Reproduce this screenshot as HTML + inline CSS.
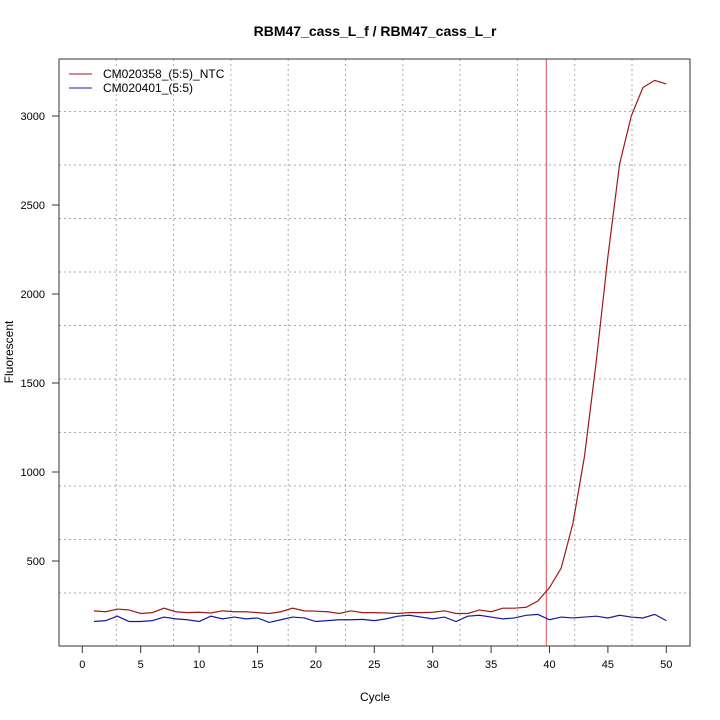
<!DOCTYPE html>
<html><head><style>body{margin:0;background:#fff}svg{display:block;font-family:"Liberation Sans",Arial,sans-serif}</style></head>
<body>
<svg width="720" height="720" viewBox="0 0 720 720">
<rect width="720" height="720" fill="#fff"/>
<text x="375" y="36" font-size="14" font-weight="bold" text-anchor="middle">RBM47_cass_L_f / RBM47_cass_L_r</text>
<g stroke="#aaa" stroke-dasharray="2,3" stroke-width="1">
<line x1="116.3" y1="59" x2="116.3" y2="646"/><line x1="173.6" y1="59" x2="173.6" y2="646"/><line x1="230.9" y1="59" x2="230.9" y2="646"/><line x1="288.2" y1="59" x2="288.2" y2="646"/><line x1="345.5" y1="59" x2="345.5" y2="646"/><line x1="402.8" y1="59" x2="402.8" y2="646"/><line x1="460.1" y1="59" x2="460.1" y2="646"/><line x1="517.4" y1="59" x2="517.4" y2="646"/><line x1="574.7" y1="59" x2="574.7" y2="646"/><line x1="632" y1="59" x2="632" y2="646"/>
<line x1="59" y1="593" x2="690" y2="593"/><line x1="59" y1="539.5" x2="690" y2="539.5"/><line x1="59" y1="486" x2="690" y2="486"/><line x1="59" y1="432.5" x2="690" y2="432.5"/><line x1="59" y1="379" x2="690" y2="379"/><line x1="59" y1="325.5" x2="690" y2="325.5"/><line x1="59" y1="272" x2="690" y2="272"/><line x1="59" y1="218.5" x2="690" y2="218.5"/><line x1="59" y1="165" x2="690" y2="165"/><line x1="59" y1="111.5" x2="690" y2="111.5"/>
</g>
<line x1="546.3" y1="59" x2="546.3" y2="646" stroke="#e05050" stroke-width="1"/>
<g transform="translate(82.3,650) scale(11.68,-0.178)" fill="none" stroke-width="1.2">
<polyline vector-effect="non-scaling-stroke" stroke="#a01818" points="1,220 2,215 3,230 4,225 5,205 6,210 7,235 8,215 9,210 10,212 11,208 12,220 13,215 14,215 15,210 16,205 17,215 18,235 19,220 20,218 21,215 22,205 23,220 24,210 25,210 26,208 27,205 28,210 29,210 30,212 31,220 32,205 33,205 34,225 35,215 36,235 37,235 38,240 39,275 40,350 41,460 42,710 43,1090 44,1620 45,2210 46,2730 47,3000 48,3160 49,3200 50,3180"/>
<polyline vector-effect="non-scaling-stroke" stroke="#1818a0" points="1,160 2,165 3,190 4,160 5,160 6,165 7,185 8,175 9,170 10,160 11,190 12,175 13,185 14,175 15,180 16,155 17,170 18,185 19,180 20,160 21,165 22,170 23,170 24,172 25,165 26,175 27,190 28,195 29,185 30,175 31,185 32,160 33,190 34,195 35,185 36,175 37,180 38,195 39,200 40,170 41,185 42,180 43,185 44,190 45,180 46,195 47,185 48,180 49,200 50,165"/>
</g>
<rect x="59" y="59" width="631" height="587" fill="none" stroke="#333" stroke-width="1"/>
<g stroke="#333">
<line x1="82.3" y1="646" x2="82.3" y2="653"/><line x1="140.7" y1="646" x2="140.7" y2="653"/><line x1="199.1" y1="646" x2="199.1" y2="653"/><line x1="257.5" y1="646" x2="257.5" y2="653"/><line x1="315.9" y1="646" x2="315.9" y2="653"/><line x1="374.3" y1="646" x2="374.3" y2="653"/><line x1="432.7" y1="646" x2="432.7" y2="653"/><line x1="491.1" y1="646" x2="491.1" y2="653"/><line x1="549.5" y1="646" x2="549.5" y2="653"/><line x1="607.9" y1="646" x2="607.9" y2="653"/><line x1="666.3" y1="646" x2="666.3" y2="653"/>
<line x1="52" y1="116" x2="59" y2="116"/><line x1="52" y1="205" x2="59" y2="205"/><line x1="52" y1="294" x2="59" y2="294"/><line x1="52" y1="383" x2="59" y2="383"/><line x1="52" y1="472" x2="59" y2="472"/><line x1="52" y1="561" x2="59" y2="561"/>
</g>
<g font-size="11" text-anchor="middle">
<text x="82.3" y="668">0</text><text x="140.7" y="668">5</text><text x="199.1" y="668">10</text><text x="257.5" y="668">15</text><text x="315.9" y="668">20</text><text x="374.3" y="668">25</text><text x="432.7" y="668">30</text><text x="491.1" y="668">35</text><text x="549.5" y="668">40</text><text x="607.9" y="668">45</text><text x="666.3" y="668">50</text>
</g>
<g font-size="11" text-anchor="end">
<text x="45" y="120">3000</text><text x="45" y="209">2500</text><text x="45" y="298">2000</text><text x="45" y="387">1500</text><text x="45" y="476">1000</text><text x="45" y="565">500</text>
</g>
<text x="375" y="701" font-size="12" text-anchor="middle">Cycle</text>
<text transform="translate(13,352) rotate(-90)" font-size="12" text-anchor="middle">Fluorescent</text>
<line x1="69" y1="74" x2="92" y2="74" stroke="#a01818"/>
<line x1="69" y1="88" x2="92" y2="88" stroke="#1818a0"/>
<text x="103" y="78" font-size="12">CM020358_(5:5)_NTC</text>
<text x="103" y="92" font-size="12">CM020401_(5:5)</text>
</svg>
</body></html>
